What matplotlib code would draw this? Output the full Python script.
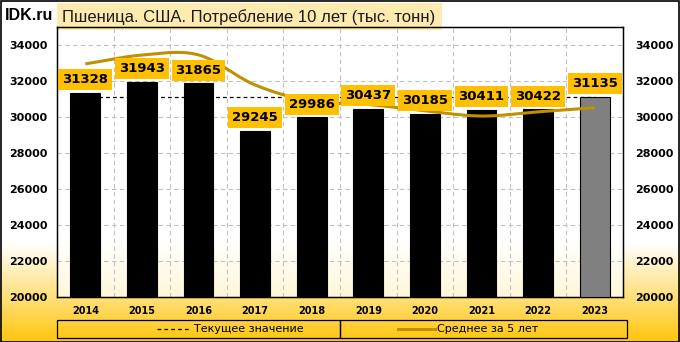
import numpy as np
import matplotlib
matplotlib.use("Agg")
import matplotlib.pyplot as plt
from matplotlib.patches import Rectangle
from matplotlib.lines import Line2D

years = ["2014", "2015", "2016", "2017", "2018", "2019", "2020", "2021", "2022", "2023"]
values = [31328, 31943, 31865, 29245, 29986, 30437, 30185, 30411, 30422, 31135]
avg5 = [32950, 33440, 33450, 31780, 30873, 30695, 30344, 30053, 30288, 30518]
current = 31135
title = "Пшеница. США. Потребление 10 лет (тыс. тонн)"
yticks = [20000, 22000, 24000, 26000, 28000, 30000, 32000, 34000]

W, H = 680, 342
fig = plt.figure(figsize=(W / 100, H / 100), dpi=100)

# background gradient (white -> gold at bottom)
bg = fig.add_axes([0, 0, 1, 1], zorder=-10)
rows = np.linspace(0, 1, H)
start = 243 / H
t = np.clip((rows - start) / (1 - start), 0, 1)
white = np.array([1.0, 1.0, 1.0])
gold = np.array([1.0, 0.776, 0.05])
img = white[None, :] * (1 - t[:, None]) + gold[None, :] * t[:, None]
img = np.repeat(img[:, None, :], 4, axis=1)
bg.imshow(img, aspect="auto", extent=[0, 1, 0, 1], origin="upper")

# plot-area fill: white fading to light cream at the bottom
p0, p1 = 27, 297
prow = np.linspace(p0, p1, p1 - p0)
pt = np.clip((prow - 240) / (p1 - 240), 0, 1)
cream = np.array([1.0, 0.965, 0.85])
pimg = white[None, :] * (1 - pt[:, None]) + cream[None, :] * pt[:, None]
pimg = np.repeat(pimg[:, None, :], 4, axis=1)
bg.imshow(pimg, aspect="auto", extent=[57 / W, 623 / W, 1 - p1 / H, 1 - p0 / H], origin="upper")
bg.set_xlim(0, 1)
bg.set_ylim(0, 1)
bg.axis("off")
# figure border
bg.add_patch(Rectangle((0.5 / W, 0.5 / H), 1 - 1.5 / W, 1 - 1.5 / H, fill=False,
                       edgecolor="black", linewidth=1.2, transform=bg.transAxes))


def px(x0, y0, x1, y1):
    return [x0 / W, 1 - y1 / H, (x1 - x0) / W, (y1 - y0) / H]


ax = fig.add_axes(px(57, 27, 623, 297))
ax.set_facecolor("none")
x = np.arange(len(years))
colors = ["black"] * (len(years) - 1) + ["#808080"]
ax.bar(x, values, width=0.53, color=colors, edgecolor="black", linewidth=0.8, zorder=3)

# current value dashed line
ax.plot([x[0], x[-1]], [current, current], color="black", linestyle=(0, (3, 2.5)),
        linewidth=0.9, zorder=2)


# smooth 5-yr average (Catmull-Rom)
def catmull(xs, ys, n=30):
    xs = np.asarray(xs, float)
    ys = np.asarray(ys, float)
    P = np.column_stack([xs, ys])
    P = np.vstack([2 * P[0] - P[1], P, 2 * P[-1] - P[-2]])
    out = []
    for i in range(1, len(P) - 2):
        q0, q1, q2, q3 = P[i - 1], P[i], P[i + 1], P[i + 2]
        tt = np.linspace(0, 1, n)[:, None]
        c = 0.5 * ((2 * q1) + (-q0 + q2) * tt + (2 * q0 - 5 * q1 + 4 * q2 - q3) * tt ** 2
                   + (-q0 + 3 * q1 - 3 * q2 + q3) * tt ** 3)
        out.append(c)
    out = np.vstack(out)
    return out[:, 0], out[:, 1]


sx, sy = catmull(x, avg5)
ax.plot(sx, sy, color="#BF9000", linewidth=2.2, zorder=4, solid_capstyle="butt")

for xi, v in zip(x, values):
    ax.annotate(f"{v}", (xi, v), xytext=(0, 9.5), textcoords="offset points",
                ha="center", va="center", fontsize=9.5, fontweight="bold",
                family="DejaVu Sans", zorder=6,
                bbox=dict(boxstyle="square,pad=0.3", facecolor="#FFC000", edgecolor="none"))

ax.set_xlim(-0.5, len(years) - 0.5)
ax.set_ylim(20000, 35000)
ax.set_yticks(yticks)
ax.set_yticklabels([str(v) for v in yticks], fontsize=8, fontweight="bold")
ax.set_xticks(x)
ax.set_xticklabels(years, fontsize=7, fontweight="bold")
ax.tick_params(axis="both", length=0)
ax.tick_params(axis="y", pad=7)
ax.tick_params(axis="x", pad=6.5)
for yv in yticks[1:]:
    ax.axhline(yv, color="#C0C0C0", linestyle=(0, (4, 3)), linewidth=0.8, zorder=1)
for xb in np.arange(0.5, len(years) - 0.5, 1):
    ax.axvline(xb, color="#C0C0C0", linestyle=(0, (4, 3)), linewidth=0.8, zorder=1)
for s in ax.spines.values():
    s.set_color("black")
    s.set_linewidth(1.0)

ax2 = ax.twinx()
ax2.set_ylim(20000, 35000)
ax2.set_yticks(yticks)
ax2.set_yticklabels([str(v) for v in yticks], fontsize=8, fontweight="bold")
ax2.tick_params(axis="y", length=0, pad=9)

# Title box and IDK.ru
bg.add_patch(Rectangle((57 / W, 1 - 30 / H), (442 - 57) / W, 27 / H,
                       facecolor="#FFEBB0", edgecolor="none", transform=bg.transAxes, zorder=2))
fig.text(62 / W, 1 - 17 / H, title, fontsize=12, ha="left", va="center",
         family="Liberation Sans", color="#1a1a1a")
fig.text(5 / W, 1 - 16 / H, "IDK.ru", fontsize=11.5, fontweight="bold", ha="left", va="center",
         family="Liberation Sans")

# legend boxes
bg.add_patch(Rectangle((57 / W, 1 - 338 / H), (340 - 57) / W, 18 / H, fill=False,
                       edgecolor="black", linewidth=0.9, transform=bg.transAxes, zorder=3))
bg.add_patch(Rectangle((340 / W, 1 - 338 / H), (627 - 340) / W, 18 / H, fill=False,
                       edgecolor="black", linewidth=0.9, transform=bg.transAxes, zorder=3))
ly = 1 - 329 / H
fig.add_artist(Line2D([157 / W, 190 / W], [ly, ly], color="black", linestyle=(0, (3, 2.5)),
                      linewidth=0.9))
fig.text(194 / W, ly, "Текущее значение", fontsize=8, ha="left", va="center")
fig.add_artist(Line2D([398 / W, 435 / W], [ly, ly], color="#BF9000", linewidth=2.2))
fig.text(437 / W, ly, "Среднее за 5 лет", fontsize=8, ha="left", va="center")

fig.savefig("out.png", dpi=100)
